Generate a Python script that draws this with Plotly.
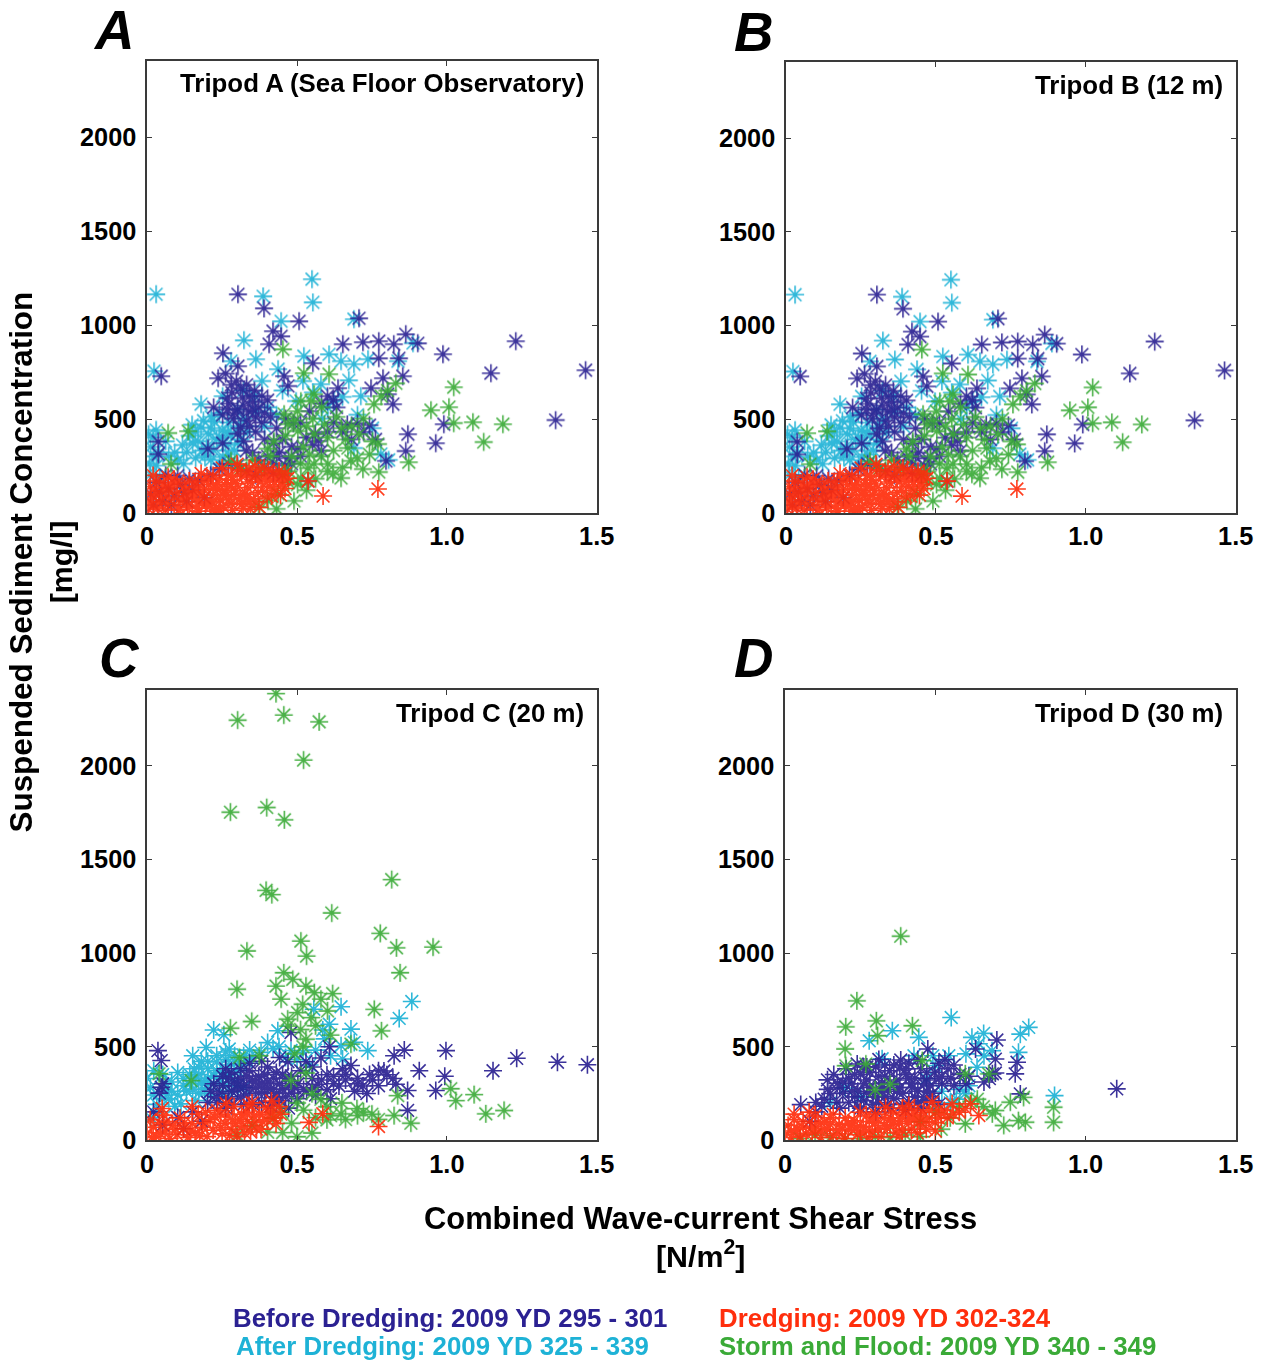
import plotly.graph_objects as go

W, H = 1273, 1371

# ---------------- data (x: shear stress N/m2, y: SSC mg/l) ----------------
# Tripod A (Tripod B shows the same scatter)
A_after = [(0.03,1165),(0.55,1245),(0.387,1154),(0.553,1122),(0.447,1021),(0.323,920),(0.023,755),
           (0.69,1032),(0.887,905),(0.363,819),(0.28,809),(0.523,835),(0.607,845),(0.647,809),(0.69,793),
           (0.737,819),(0.837,809),(0.437,766),(0.673,707),(0.58,686),(0.18,580),(0.497,596),(0.713,622),
           (0.623,596),(0.78,314),(0.69,346),
           (0.15,470),(0.18,455),(0.205,420),(0.225,485),(0.252,440),(0.28,412),(0.305,462),(0.17,382),
           (0.198,352),(0.232,392),(0.262,362),(0.292,332),(0.132,322),(0.162,292),(0.193,302),(0.222,333),
           (0.253,298),(0.118,362),(0.102,283),(0.272,482),(0.312,392),(0.335,433),
           (0.005,420),(0.012,352),(0.022,302),(0.031,252),(0.011,203),(0.042,192),(0.062,382),(0.02,402),
           (0.36,622),(0.402,563),(0.452,652),(0.52,703),(0.553,642),(0.432,522),(0.603,562),(0.652,618),
           (0.583,502),(0.252,622),(0.322,652),(0.383,703),(0.702,523),(0.752,452),(0.806,283),
           (0.142,412),(0.161,432),(0.212,452),(0.241,402),(0.268,432),(0.188,492),(0.214,512),(0.241,532),
           (0.152,372),(0.182,332),(0.213,282),(0.242,262),(0.272,312),(0.302,372),(0.322,502),(0.122,262),
           (0.092,322),(0.072,302),(0.008,262),(0.04,322),(0.03,442),(0.362,542),(0.392,462),(0.302,552)]
A_before = [(0.303,1165),(0.39,1090),(0.42,968),(0.447,941),(0.407,899),(0.507,1021),(0.707,1037),
            (0.253,851),(0.303,782),(0.047,729),(0.237,718),(0.653,899),(0.72,910),(0.773,915),(0.823,899),
            (0.863,952),(0.903,904),(0.773,824),(0.84,824),(0.987,846),(1.23,915),(1.463,761),(1.147,745),
            (1.363,495),(0.99,473),(0.963,372),(0.87,420),(0.863,330),(0.797,277),(0.803,633),(0.82,580),
            (0.787,718),(0.853,729),(0.747,665),(0.637,665),(0.553,798),(0.457,729),(0.47,676),
            (0.262,742),(0.298,702),(0.332,683),(0.358,652),(0.283,641),(0.318,612),(0.352,591),(0.383,623),
            (0.272,582),(0.302,553),(0.338,541),(0.372,562),(0.402,601),(0.252,522),(0.288,502),(0.332,492),
            (0.362,512),(0.392,532),(0.222,562),(0.312,452),(0.362,432),
            (0.622,482),(0.702,478),(0.742,468),(0.668,472),(0.582,583),(0.602,622),(0.621,602),(0.512,481),
            (0.488,478),(0.561,422),(0.602,432),(0.572,383),(0.531,402),
            (0.402,302),(0.441,322),(0.472,292),(0.502,342),(0.422,262),(0.461,252),(0.372,282),(0.331,332),
            (0.302,422),(0.252,372),(0.203,342),
            (0.012,102),(0.031,162),(0.052,62),(0.071,132),(0.091,92),(0.112,152),(0.132,62),(0.151,122),
            (0.172,172),(0.191,82),(0.021,42),(0.062,202),(0.102,198),(0.041,112),(0.142,182),(0.122,108),
            (0.081,42),(0.037,380),(0.037,313),(0.537,170),(0.212,202),(0.242,232),(0.272,262),(0.302,252),
            (0.332,222),(0.362,202),(0.392,242),(0.421,212),(0.452,202),
            (0.281,682),(0.312,662),(0.342,622),(0.268,612),(0.322,572),(0.352,552),(0.292,532),(0.268,552),
            (0.382,482),(0.412,512),(0.432,452),(0.342,462),(0.392,392),(0.422,372),(0.452,392),(0.482,352),
            (0.432,302),(0.482,262),(0.512,302),(0.352,322),(0.322,382),(0.552,362),(0.582,332),(0.652,432),
            (0.722,432),(0.762,392),(0.682,392),(0.632,562),(0.542,542),(0.462,502)]
A_storm = [(0.453,872),(0.523,745),(0.607,739),(0.83,691),(1.023,670),(0.947,548),(1.007,564),(1.023,479),
           (1.087,484),(1.187,473),(1.123,378),(0.873,271),(0.773,218),(0.72,234),(0.647,186),(0.62,207),
           (0.68,277),(0.67,346),(0.757,580),(0.77,367),(0.707,420),(0.603,261),(0.513,596),(0.547,596),
           (0.557,633),(0.457,527),(0.47,473),(0.503,436),(0.557,420),(0.07,426),(0.137,436),(0.08,261),
           (0.423,383),(0.437,101),(0.403,64),(0.49,64),(0.557,261),(0.513,186),(0.537,239),(0.313,239),
           (0.28,277),(0.602,402),(0.648,452),(0.553,502),(0.502,542),(0.622,332),(0.581,302),(0.482,302),
           (0.451,222),(0.502,152),(0.532,122),(0.472,162),(0.432,22),(0.372,32),(0.352,282),(0.402,342),
           (0.722,502),(0.781,622),(0.802,652),(0.752,382),(0.662,392),(0.582,562),(0.521,352),
           (0.492,492),(0.532,462),(0.592,472),(0.632,512),(0.682,462),(0.742,312),(0.702,292),(0.652,242),
           (0.602,222),(0.562,182),(0.472,222),(0.512,262),(0.542,312),(0.462,412),(0.412,302),(0.382,232)]
A_dredge = [(0.00,70),(0.01,140),(0.02,30),(0.015,95),(0.03,170),(0.04,55),(0.05,120),(0.06,15),
            (0.065,85),(0.08,150),(0.09,45),(0.10,105),(0.11,20),(0.12,75),(0.125,140),(0.14,35),(0.15,95),
            (0.16,165),(0.17,10),(0.175,60),(0.19,125),(0.2,185),(0.21,40),(0.22,95),(0.23,150),(0.24,15),
            (0.245,70),(0.26,120),(0.27,200),(0.28,50),(0.29,95),(0.30,155),(0.31,230),(0.32,25),(0.33,80),
            (0.335,135),(0.35,190),(0.36,60),(0.37,110),(0.38,165),(0.39,240),(0.40,85),(0.41,140),
            (0.42,205),(0.43,120),(0.44,175),(0.45,150),(0.46,210),(0.47,185),(0.44,223),(0.537,170),
            (0.587,90),(0.77,128),(0.02,200),(0.07,190),(0.18,210),(0.25,240),(0.3,260),(0.36,250),
            (0.005,20),(0.035,25),(0.07,45),(0.105,15),(0.135,30),(0.165,25),(0.195,40),(0.225,10),(0.255,30),
            (0.285,15),(0.315,45),(0.345,20),(0.375,30),(0.01,60),(0.045,85),(0.075,110),(0.105,70),(0.135,90),
            (0.165,115),(0.185,95),(0.215,60),(0.235,125),(0.265,95),(0.295,120),(0.325,100),(0.355,75),
            (0.385,120),(0.415,90),(0.445,95),(0.025,130),(0.055,160),(0.09,180),(0.14,170),(0.17,135),
            (0.205,150),(0.24,180),(0.265,160),(0.285,175),(0.315,195),(0.345,165),(0.365,215),(0.395,195),
            (0.425,165),(0.455,180),(0.405,230),(0.34,230),(0.28,200),(0.22,200),
            (0.03,100),(0.06,140),(0.10,160),(0.13,120),(0.16,80),(0.19,170),(0.22,130),(0.25,100),
            (0.28,140),(0.31,80),(0.34,60),(0.37,180),(0.40,170),(0.43,200),(0.46,130),(0.33,210),(0.20,60),
            (0.23,30),(0.27,70)]

# Tripod C
C_after = [(0.883,741),(0.841,651),(0.647,713),(0.608,620),(0.586,589),(0.556,700),(0.68,594),(0.691,523),
           (0.736,479),(0.647,505),(0.652,434),(0.436,585),(0.222,589),(0.256,564),(0.197,496),(0.274,488),
           (0.42,490),(0.44,500),(0.48,480),(0.52,470),(0.38,470),(0.35,440),(0.5,430),
           (0.152,452),(0.181,421),(0.203,382),(0.232,418),(0.251,362),(0.272,402),(0.302,372),(0.331,421),
           (0.161,331),(0.191,302),(0.222,342),(0.262,292),(0.291,322),(0.322,282),(0.131,262),(0.172,252),
           (0.211,242),(0.113,195),(0.157,382),(0.12,330),(0.082,262),
           (0.0,330),(0.011,282),(0.021,242),(0.032,192),(0.041,152),(0.061,302),(0.072,222),(0.012,122),
           (0.142,302),(0.172,352),(0.232,372),(0.262,432),(0.292,452),(0.242,312),(0.202,332),(0.102,242),
           (0.052,222),(0.022,372),(0.282,262),(0.312,402),(0.342,482),(0.402,522),(0.462,442),(0.562,482),
           (0.612,452),(0.542,402),(0.592,542),(0.252,242),(0.192,272),(0.162,212),(0.062,262),(0.092,182),
           (0.142,352),(0.172,392),(0.202,422),(0.232,452),(0.262,472),(0.292,422),(0.322,452),(0.182,312),
           (0.212,302),(0.242,332),(0.272,352),(0.302,292),(0.152,272),(0.122,292),(0.082,312),(0.052,352),
           (0.102,362)]
C_before = [(0.036,479),(0.047,426),(0.047,284),(0.48,576),(0.608,500),(0.858,482),(0.824,452),(0.997,479),
            (1.233,438),(1.369,417),(1.469,404),(1.154,372),(0.993,342),(0.908,372),(0.963,266),(0.869,266),
            (0.869,160),(0.80,350),(0.82,330),(0.79,370),(0.83,300),(0.733,250),(0.72,290),(0.68,400),
            (0.64,290),(0.60,270),(0.57,300),(0.53,420),(0.47,420),(0.58,440),(0.60,350),(0.55,330),
            (0.222,302),(0.252,342),(0.281,362),(0.312,332),(0.341,372),(0.372,342),(0.402,312),(0.431,362),
            (0.462,332),(0.241,252),(0.272,222),(0.302,272),(0.332,242),(0.362,282),(0.392,252),(0.421,232),
            (0.451,272),(0.482,252),(0.503,302),(0.202,202),(0.352,192),(0.412,182),(0.472,172),(0.262,172),
            (0.152,152),(0.102,122),(0.052,82),(0.122,62),(0.182,102),(0.382,422),(0.442,442),
            (0.052,302),(0.041,252),(0.021,152),
            (0.292,312),(0.322,292),(0.352,322),(0.382,302),(0.412,272),(0.442,302),(0.472,292),(0.232,232),
            (0.282,192),(0.322,192),(0.432,202),(0.502,222),(0.532,262),(0.562,242),(0.622,342),(0.662,352),
            (0.702,332),(0.752,322),(0.772,292),(0.692,262),(0.612,222),(0.772,372),(0.742,352),(0.652,382),
            (0.512,372),(0.552,392),(0.402,392),(0.342,412),(0.312,382),(0.262,382),
            (0.252,292),(0.282,262),(0.312,232),(0.342,282),(0.372,252),(0.402,282),(0.432,252),(0.462,232),
            (0.492,282),(0.272,332),(0.302,302),(0.332,342),(0.362,312),(0.392,352),(0.422,332),(0.452,352),
            (0.482,342),(0.212,262),(0.232,202),(0.382,202),(0.442,212),(0.522,272),(0.552,282),(0.582,322),
            (0.622,302),(0.662,322),(0.702,302)]
C_storm = [(0.43,2385),(0.302,2243),(0.456,2270),(0.574,2234),(0.522,2030),(0.278,1752),(0.399,1777),
           (0.458,1711),(0.816,1392),(0.397,1335),(0.416,1312),(0.616,1214),(0.333,1011),(0.513,1064),
           (0.532,984),(0.778,1105),(0.832,1028),(0.954,1032),(0.844,895),(0.30,807),(0.456,895),(0.486,860),
           (0.43,824),(0.447,754),(0.53,824),(0.558,789),(0.619,784),(0.58,754),(0.519,727),(0.469,647),
           (0.547,656),(0.602,691),(0.758,700),(0.782,585),(0.349,635),(0.278,599),(0.374,452),(0.308,443),
           (0.68,514),(1.091,245),(1.03,213),(1.013,276),(1.13,142),(1.191,160),(0.88,92),(0.836,239),
           (0.824,133),(0.702,133),(0.647,142),(0.60,110),(0.55,40),(0.50,20),(0.52,500),(0.53,540),
           (0.47,610),(0.04,356),(0.147,319),(0.402,44),(0.45,150),(0.50,200),(0.55,250),(0.60,180),
           (0.65,200),(0.70,170),(0.75,140),(0.48,320),(0.53,360),(0.58,220),(0.35,80),(0.30,30),(0.42,120),
           (0.562,122),(0.612,132),(0.662,112),(0.722,152),(0.772,112),(0.522,162),(0.482,92),(0.452,42),
           (0.502,682),(0.562,612),(0.512,592),(0.612,562),(0.492,462)]
C_dredge = [(0.00,40),(0.01,110),(0.02,70),(0.03,20),(0.04,95),(0.055,135),(0.06,45),(0.075,10),(0.085,80),
            (0.10,30),(0.11,120),(0.12,60),(0.135,15),(0.15,90),(0.16,40),(0.17,140),(0.185,70),(0.20,20),
            (0.21,110),(0.22,55),(0.235,160),(0.25,35),(0.26,90),(0.27,130),(0.28,60),(0.29,180),(0.30,20),
            (0.31,110),(0.32,75),(0.33,150),(0.345,45),(0.35,200),(0.36,95),(0.375,140),(0.38,60),
            (0.395,175),(0.40,110),(0.415,210),(0.42,150),(0.43,90),(0.44,180),(0.34,186),(0.263,197),
            (0.586,142),(0.54,96),(0.772,74),(0.05,170),(0.15,180),
            (0.015,15),(0.045,35),(0.095,60),(0.125,95),(0.145,50),(0.175,25),(0.195,95),(0.225,125),
            (0.245,70),(0.275,25),(0.295,90),(0.315,140),(0.325,40),(0.355,130),(0.365,60),(0.385,100),
            (0.405,150),(0.425,120),(0.445,140),(0.245,140),(0.195,150),(0.065,100),(0.285,110),(0.335,100)]

# Tripod D
D_after = [(0.553,656),(0.357,585),(0.28,532),(0.445,550),(0.811,603),(0.783,567),(0.661,571),(0.622,550),
           (0.777,470),(0.689,479),(0.645,516),(0.639,390),(0.545,452),(0.429,452),(0.323,436),(0.897,239),
           (0.57,220),(0.60,250),(0.55,200),(0.50,400),(0.47,330),(0.20,280),(0.15,200),
           (0.582,272),(0.612,292),(0.522,262),(0.492,452),(0.602,462),(0.662,452),(0.252,232)]
D_before = [(1.104,275),(0.705,536),(0.634,488),(0.70,434),(0.772,417),(0.766,355),(0.783,248),(0.69,355),
            (0.70,360),(0.68,330),(0.475,488),(0.385,429),(0.24,408),(0.141,323),(0.174,305),(0.052,191),
            (0.13,220),(0.15,250),
            (0.203,382),(0.251,352),(0.302,392),(0.348,372),(0.402,352),(0.452,382),(0.498,362),(0.222,302),
            (0.272,322),(0.322,302),(0.372,322),(0.421,302),(0.471,322),(0.522,302),(0.192,252),(0.242,262),
            (0.292,252),(0.342,272),(0.392,252),(0.442,262),(0.492,252),(0.212,202),(0.262,212),(0.312,202),
            (0.362,222),(0.412,202),(0.462,212),(0.512,192),(0.302,152),(0.402,162),(0.532,432),(0.562,402),
            (0.582,352),(0.552,332),(0.102,152),(0.082,102),(0.602,302),
            (0.232,352),(0.282,362),(0.332,342),(0.382,392),(0.432,332),(0.482,292),(0.182,282),(0.232,232),
            (0.282,282),(0.332,232),(0.382,282),(0.432,232),(0.472,262),(0.252,172),(0.352,172),(0.452,172),
            (0.172,202),(0.122,182),(0.162,352),(0.312,432),(0.362,402),(0.412,412),(0.442,432),(0.512,412),
            (0.542,382),(0.562,292),(0.522,342),(0.322,262),(0.272,392),(0.612,342),(0.662,312),
            (0.212,332),(0.262,302),(0.312,342),(0.362,302),(0.412,332),(0.462,302),(0.512,332),(0.222,262),
            (0.272,252),(0.322,282),(0.372,262),(0.422,282),(0.472,232),(0.292,192),(0.342,192),(0.392,192),
            (0.442,202),(0.492,212),(0.192,312),(0.262,392),(0.332,402),(0.402,382),(0.472,362),(0.302,232),
            (0.242,182),(0.182,172),(0.142,272),(0.102,202)]
D_storm = [(0.385,1090),(0.239,745),(0.202,606),(0.304,638),(0.308,559),(0.424,612),(0.20,488),(0.202,399),
           (0.269,408),(0.457,426),(0.75,204),(0.794,230),(0.894,177),(0.894,97),(0.80,97),(0.777,106),
           (0.728,80),(0.69,142),(0.70,160),(0.64,220),(0.62,210),(0.60,89),(0.678,355),(0.60,355),
           (0.50,150),(0.45,100),(0.30,20),(0.20,10),(0.10,30),(0.40,30),(0.35,300),(0.30,270),(0.55,120),
           (0.05,10),(0.15,15),(0.25,10),(0.35,15),(0.45,20),(0.52,60),(0.58,180),(0.66,180)]
D_dredge = [(0.00,30),(0.01,80),(0.02,50),(0.03,110),(0.05,20),(0.06,70),(0.08,151),(0.09,40),(0.11,95),
            (0.12,15),(0.14,60),(0.15,120),(0.17,35),(0.18,85),(0.20,10),(0.21,55),(0.23,105),(0.24,30),
            (0.26,75),(0.27,130),(0.29,45),(0.30,95),(0.32,20),(0.335,177),(0.34,65),(0.35,120),(0.37,40),
            (0.38,90),(0.40,140),(0.412,186),(0.42,60),(0.43,110),(0.45,80),(0.46,150),(0.48,120),(0.49,204),
            (0.50,95),(0.52,140),(0.54,120),(0.556,195),(0.58,150),(0.617,195),(0.645,133),(0.10,130),
            (0.25,150),(0.03,140),
            (0.04,60),(0.07,35),(0.10,65),(0.13,100),(0.16,25),(0.19,60),(0.22,80),(0.25,45),(0.28,100),
            (0.31,60),(0.33,120),(0.36,85),(0.39,55),(0.41,100),(0.44,130),(0.47,100),(0.51,120),(0.53,160),
            (0.47,60),(0.36,150),(0.30,140),(0.20,120),(0.16,140),(0.39,170),(0.43,160),(0.56,140),
            (0.02,15),(0.06,100),(0.09,75),(0.12,50),(0.15,85),(0.18,55),(0.21,90),(0.24,70),(0.27,50),
            (0.30,120),(0.33,80),(0.36,105),(0.39,120),(0.42,135),(0.45,120),(0.48,160),(0.51,160),(0.50,50),
            (0.44,40),(0.38,20),(0.28,15),(0.60,170)]

series_names = ["After Dredging: 2009 YD 325 - 339", "Before Dredging: 2009 YD 295 - 301",
                "Storm and Flood: 2009 YD 340 - 349", "Dredging: 2009 YD 302-324"]
panel_titles = ["Tripod A (Sea Floor Observatory)", "Tripod B (12 m)", "Tripod C (20 m)", "Tripod D (30 m)"]
panel_letters = ["A", "B", "C", "D"]
x_ticks = [0, 0.5, 1.0, 1.5]
x_ticktext = ["0", "0.5", "1.0", "1.5"]
y_ticks = [0, 500, 1000, 1500, 2000]

# ---------------- style ----------------
COL = {"after": "#1eb2d6", "before": "#2b2192", "storm": "#3aaa37", "dredge": "#ff2e0c"}
FONT = "Liberation Sans, Arial, sans-serif"
FS = 1.013  # font compensation

# placement helpers: target pixel position -> paper fraction (compensates the rendering offset)
def fx(px):
    return (px - 5.4) / 0.9835 / W

def fy(py):
    return 1 - (py + 1.44) / 0.9907 / H

# panel boxes in target pixels: (left, right, top, bottom)
boxes = [(146, 597, 60, 512), (787, 1238, 61, 512), (146, 597, 689, 1140), (786, 1238, 689, 1140)]
panel_data = [
    (A_after, A_before, A_storm, A_dredge),
    (A_after, A_before, A_storm, A_dredge),
    (C_after, C_before, C_storm, C_dredge),
    (D_after, D_before, D_storm, D_dredge),
]

fig = go.Figure()
for i, (data, box) in enumerate(zip(panel_data, boxes)):
    sfx = "" if i == 0 else str(i + 1)
    for pts, key, name in zip(data, ["after", "before", "storm", "dredge"], series_names):
        fig.add_trace(go.Scatter(
            x=[p[0] for p in pts], y=[p[1] for p in pts], mode="markers", name=name,
            showlegend=False, xaxis="x" + sfx, yaxis="y" + sfx,
            marker=dict(symbol="asterisk-open", size=15, color=COL[key],
                        line=dict(color=COL[key], width=1.6)),
            opacity=0.92,
        ))
    l, r, t, b = box
    axstyle = dict(showline=True, linecolor="#3a3a3a", linewidth=1.5, mirror="ticks",
                   ticks="inside", ticklen=5, tickwidth=1.2, tickcolor="#3a3a3a",
                   showgrid=False, zeroline=False,
                   tickfont=dict(family=FONT, size=25 * FS, color="black", weight="bold"))
    fig.layout["xaxis" + sfx] = dict(domain=[fx(l), fx(r)], range=[0, 1.5], anchor="y" + sfx,
                                     tickvals=x_ticks, ticktext=x_ticktext, ticklabelstandoff=0, **axstyle)
    fig.layout["yaxis" + sfx] = dict(domain=[fy(b), fy(t)], range=[0, 2405], anchor="x" + sfx,
                                     tickvals=y_ticks, ticklabelstandoff=4, **axstyle)

annotations = []
title_pos = [(586, 82), (1227, 84), (586, 712), (1227, 712)]
for txt, (x, y) in zip(panel_titles, title_pos):
    annotations.append(dict(text=txt, x=fx(x), y=fy(y), xref="paper", yref="paper",
                            xanchor="right", yanchor="middle", showarrow=False,
                            font=dict(family=FONT, size=25.5 * FS, color="black", weight="bold")))
letter_pos = [(113, 29), (755, 31), (118, 657), (755, 657)]
for txt, (x, y) in zip(panel_letters, letter_pos):
    annotations.append(dict(text=txt, x=fx(x), y=fy(y), xref="paper", yref="paper",
                            xanchor="center", yanchor="middle", showarrow=False,
                            font=dict(family=FONT, size=54 * FS, color="black", weight="bold", style="italic")))
annotations.append(dict(text="Suspended Sediment Concentration", x=fx(20), y=fy(561), xref="paper",
                        yref="paper", textangle=-90, showarrow=False, xanchor="center", yanchor="middle",
                        font=dict(family=FONT, size=31 * FS, color="black", weight="bold")))
annotations.append(dict(text="[mg/l]", x=fx(59), y=fy(561), xref="paper",
                        yref="paper", textangle=-90, showarrow=False, xanchor="center", yanchor="middle",
                        font=dict(family=FONT, size=30 * FS, color="black", weight="bold")))
annotations.append(dict(text="Combined Wave-current Shear Stress", x=fx(701), y=fy(1218), xref="paper",
                        yref="paper", showarrow=False, xanchor="center", yanchor="middle",
                        font=dict(family=FONT, size=30.5 * FS, color="black", weight="bold")))
annotations.append(dict(text="[N/m<sup>2</sup>]", x=fx(701), y=fy(1254), xref="paper",
                        yref="paper", showarrow=False, xanchor="center", yanchor="middle",
                        font=dict(family=FONT, size=30 * FS, color="black", weight="bold")))
key_items = [(series_names[1], "before", 230, 1318), (series_names[3], "dredge", 718, 1318),
             (series_names[0], "after", 233, 1356), (series_names[2], "storm", 718, 1356)]
for txt, key, x, y in key_items:
    annotations.append(dict(text=txt, x=fx(x), y=max(fy(y), 11.5 / H), xref="paper", yref="paper",
                            xanchor="left", yanchor="middle", showarrow=False,
                            font=dict(family=FONT, size=25.5 * FS, color=COL[key], weight="bold")))

fig.update_layout(width=W, height=H, autosize=False, margin=dict(l=0, r=0, t=0, b=0),
                  paper_bgcolor="white", plot_bgcolor="white", annotations=annotations,
                  showlegend=False)
fig.write_html("out.html")
